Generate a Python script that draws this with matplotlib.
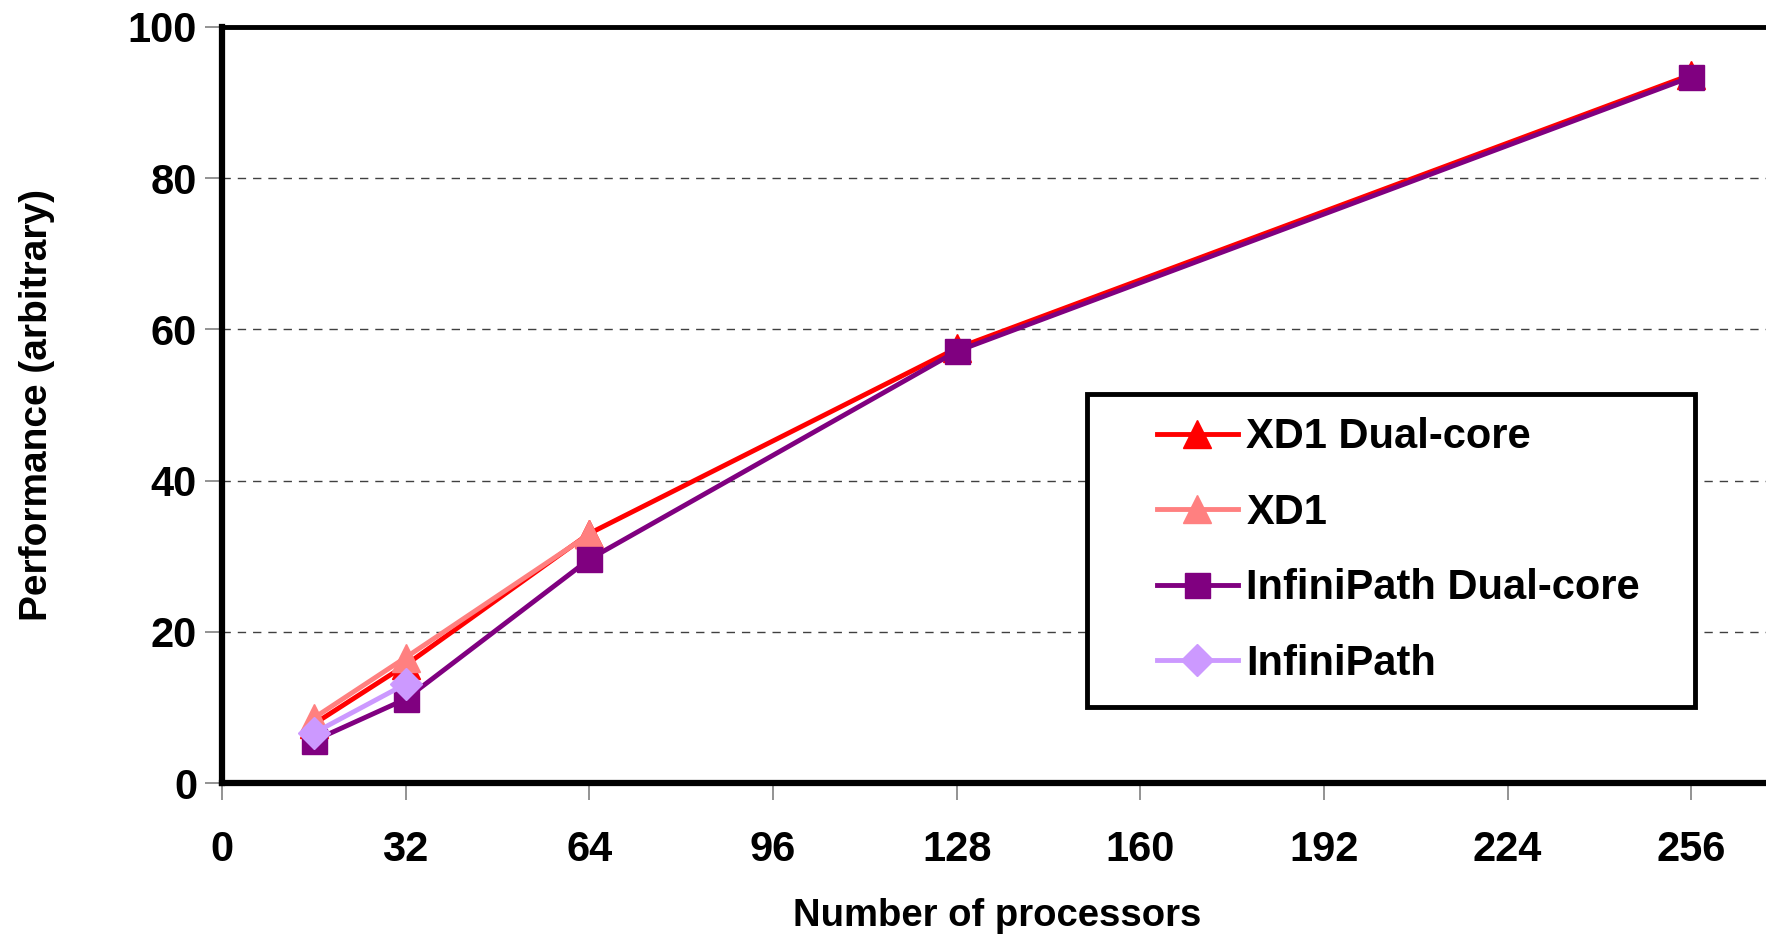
import matplotlib.pyplot as plt
from matplotlib.patches import Rectangle

# Performance vs number of processors
xd1_dual_x = [16, 32, 64, 128, 256]
xd1_dual_y = [7.8, 15.6, 33.0, 57.5, 93.7]

xd1_x = [16, 32, 64]
xd1_y = [8.6, 16.6, 32.9]

ipath_dual_x = [16, 32, 64, 128, 256]
ipath_dual_y = [5.6, 11.1, 29.6, 57.1, 93.4]

ipath_x = [16, 32]
ipath_y = [6.6, 13.1]

x_ticks = [0, 32, 64, 96, 128, 160, 192, 224, 256]
y_ticks = [0, 20, 40, 60, 80, 100]

plt.rcParams['font.family'] = ['Liberation Sans', 'DejaVu Sans']

fig = plt.figure(figsize=(17.66, 9.38), dpi=100)
# axes run past the right edge of the picture, as in the original
ax = fig.add_axes([222 / 1766, (938 - 783) / 938, 1653 / 1766, 756 / 938])

ax.plot(xd1_dual_x, xd1_dual_y, color='#FF0000', lw=3.5, marker='^', ms=20,
        label='XD1 Dual-core', zorder=3)
ax.plot(xd1_x, xd1_y, color='#FF8080', lw=3.5, marker='^', ms=20,
        label='XD1', zorder=4)
ax.plot(ipath_dual_x, ipath_dual_y, color='#800080', lw=3.5, marker='s', ms=18,
        label='InfiniPath Dual-core', zorder=5)
ax.plot(ipath_x, ipath_y, color='#CC99FF', lw=3.5, marker='D', ms=16,
        label='InfiniPath', zorder=6)

ax.set_xlim(0, 288)
ax.set_ylim(0, 100)
ax.set_xticks(x_ticks)
ax.set_yticks(y_ticks)
ax.tick_params(axis='both', direction='out', length=12, width=1.2, color='#808080',
               labelsize=30)
ax.tick_params(axis='x', pad=22)
ax.tick_params(axis='y', pad=6)
for lab in ax.get_xticklabels() + ax.get_yticklabels():
    lab.set_fontweight('bold')

ax.yaxis.grid(True, linestyle=(0, (6, 5)), color='#404040', lw=1)
ax.set_axisbelow(True)

for side in ['left', 'bottom']:
    ax.spines[side].set_linewidth(4.5)
ax.spines['top'].set_linewidth(3.5)
ax.spines['right'].set_linewidth(3.5)

ax.set_xlabel('Number of processors', fontsize=27.5, fontweight='bold')
ax.set_ylabel('Performance (arbitrary)', fontsize=28, fontweight='bold')
ax.xaxis.set_label_coords(0.469, -0.176)
ax.xaxis.label.set_va('center')
ax.yaxis.set_label_coords(-0.112, 0.5)
ax.yaxis.label.set_va('center')

# legend box drawn separately so the entries can sit inset from its left edge
ax.add_patch(Rectangle((0.523, 0.1005), 0.368, 0.4145, transform=ax.transAxes,
                       fill=True, facecolor='white', edgecolor='black', lw=3.5,
                       zorder=7))
leg = ax.legend(loc='center left', bbox_to_anchor=(0.5655, 0.3075),
                frameon=False, prop={'weight': 'bold', 'size': 30},
                handlelength=1.95, handletextpad=0.2, labelspacing=0.85,
                borderpad=0, borderaxespad=0)
leg.set_zorder(8)

fig.savefig('out.png', dpi=100)
